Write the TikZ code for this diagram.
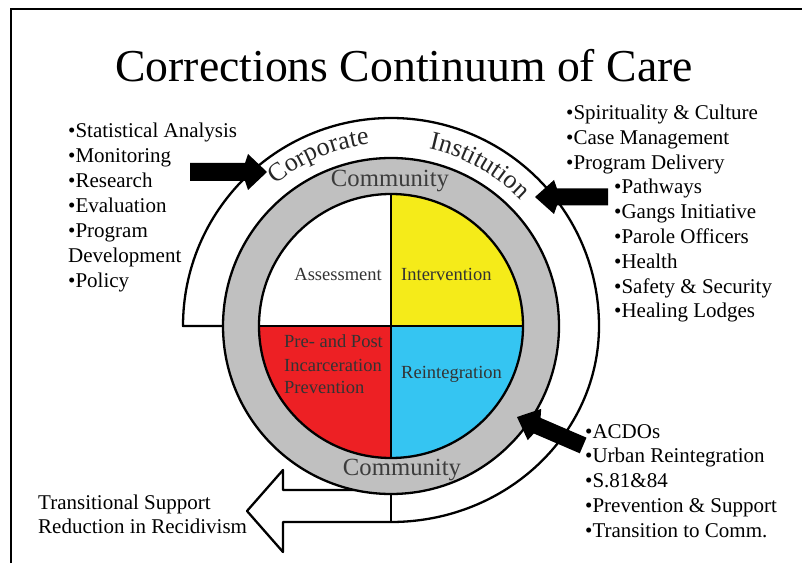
\documentclass[tikz,border=0pt]{standalone}
\usepackage{fontspec}
\setmainfont{Liberation Serif}
\usetikzlibrary{decorations.text}
\definecolor{qyellow}{HTML}{F5EB19}
\definecolor{qred}{HTML}{ED2024}
\definecolor{qcyan}{HTML}{35C5F2}
\definecolor{ringgray}{HTML}{C0C0C0}
\definecolor{commtext}{HTML}{3C3C3C}
\begin{document}
\begin{tikzpicture}[x=1pt,y=1pt,
  outline/.style={line width=2.3pt, line join=round},
  listtext/.style={anchor=base west, inner sep=0pt, font=\fontsize{21}{25}\selectfont},
  quadtext/.style={inner sep=0pt, font=\fontsize{18.5}{22.5}\selectfont, text=black!80},
  commlabel/.style={inner sep=0pt, anchor=base, font=\fontsize{24.7}{26}\selectfont, text=commtext},
  blockarrow/.style={fill=black}
]
\useasboundingbox (0,0) rectangle (802,563);
\coordinate (C) at (391,237);
% frame
\draw[line width=2pt] (11,0) -- (11,554) -- (802,554);

% continuum band and big outlined arrow
\draw[outline] (223,237) -- (183,237)
  arc[start angle=180,end angle=0,radius=208]
  arc[start angle=0,end angle=-90,x radius=208,y radius=196]
  -- (283,41) -- (283,11) -- (247,52) -- (283,93) -- (283,73) -- (356,73);

% gray ring
\fill[ringgray] (C) circle[radius=168];
\draw[outline] (C) circle[radius=168];

% quadrants
\fill[white] (C) -- ++(90:132) arc[start angle=90,end angle=180,radius=132] -- cycle;
\fill[qyellow] (C) -- ++(0:132) arc[start angle=0,end angle=90,radius=132] -- cycle;
\fill[qred] (C) -- ++(180:132) arc[start angle=180,end angle=270,radius=132] -- cycle;
\fill[qcyan] (C) -- ++(270:132) arc[start angle=270,end angle=360,radius=132] -- cycle;
\draw[outline] (C) circle[radius=132];
\draw[outline] ([xshift=-132pt]C) -- ([xshift=132pt]C);
\draw[outline] ([yshift=132pt]C) -- ([yshift=-132pt]C);
% band end divider
\draw[outline] ([yshift=-168pt]C) -- ([yshift=-196pt]C);

% black block arrows
\fill[blockarrow, shift={(267,391)}, rotate=180] (0,0) -- (19,18) -- (22,9) -- (77,9) -- (77,-9) -- (22,-9) -- (19,-18) -- cycle;
\fill[blockarrow, shift={(535,366)}] (0,0) -- (19,17) -- (22,8.5) -- (73,8.5) -- (73,-8.5) -- (22,-8.5) -- (19,-17) -- cycle;
\fill[blockarrow, shift={(517,146)}, rotate=-23.3] (0,0) -- (19,17) -- (22,8.5) -- (72,8.5) -- (72,-8.5) -- (22,-8.5) -- (19,-17) -- cycle;

% title
\node[anchor=base, inner sep=0pt, font=\fontsize{45.7}{48}\selectfont] (title) at (404,481) {Corrections Continuum of Care};

% ring labels
\node[commlabel] (commtop) at (390,376) {Community};
\node[commlabel] (commbot) at (402,88) {Community};

\path[decorate, decoration={text along path, text={|\fontsize{26}{26}\selectfont|Corporate}, text align=center, text color=black!85}]
  ([shift={(146:183)}]C) arc[start angle=146, end angle=80, radius=183];
\path[decorate, decoration={text along path, text={|\fontsize{26}{26}\selectfont|Institution}, text align=center, text color=black!85}]
  ([shift={(94:181)}]C) arc[start angle=94, end angle=28, radius=181];

% quadrant labels
\node[quadtext, anchor=base east] (assess) at (382,283) {Assessment};
\node[quadtext, anchor=base west] (interv) at (401,283) {Intervention};
\node[quadtext, anchor=base west] (pre1) at (284,216) {Pre- and Post};
\node[quadtext, anchor=base west] (pre2) at (284,192) {Incarceration};
\node[quadtext, anchor=base west] (pre3) at (284,170) {Prevention};
\node[quadtext, anchor=base west] (reint) at (401,185) {Reintegration};

% left list
\foreach \t [count=\i] in {•Statistical Analysis,•Monitoring,•Research,•Evaluation,•Program,Development,•Policy}
  \node[listtext] (left\i) at (68,{425.5-25*(\i-1)}) {\t};

% top right list
\foreach \t [count=\i] in {•Spirituality \& Culture,•Case Management,•Program Delivery}
  \node[listtext] (tr\i) at (566,{443.5-24.8*(\i-1)}) {\t};
\foreach \t [count=\i from 4] in {•Pathways,•Gangs Initiative,•Parole Officers,•Health,•Safety \& Security,•Healing Lodges}
  \node[listtext] (tr\i) at (614,{443.5-24.8*(\i-1)}) {\t};

% bottom right list
\foreach \t [count=\i] in {•ACDOs,•Urban Reintegration,•S.81\&84,•Prevention \& Support,•Transition to Comm.}
  \node[listtext] (br\i) at (585,{125-24.75*(\i-1)}) {\t};

% bottom left text
\node[listtext] (bl1) at (38,54) {Transitional Support};
\node[listtext] (bl2) at (38,30) {Reduction in Recidivism};
\end{tikzpicture}
\end{document}
